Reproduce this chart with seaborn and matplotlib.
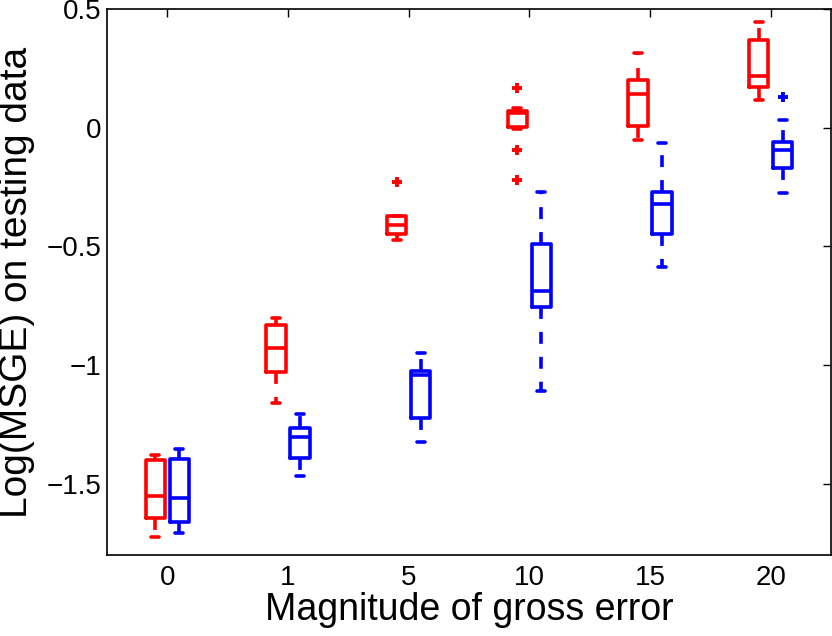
import numpy as np
import pandas as pd
import seaborn as sns
import matplotlib
matplotlib.use("Agg")
import matplotlib.pyplot as plt

# magnitudes of gross error (x categories)
magnitudes = ["0", "1", "5", "10", "15", "20"]
methods = ["red", "blue"]

# five-number summaries: whisker low, Q1, median, Q3, whisker high
red_stats = [
    [-1.725, -1.645, -1.550, -1.400, -1.378],
    [-1.159, -1.030, -0.930, -0.833, -0.800],
    [-0.474, -0.448, -0.410, -0.374, -0.374],
    [-0.005, 0.004, 0.060, 0.072, 0.085],
    [-0.051, 0.008, 0.143, 0.199, 0.313],
    [0.118, 0.173, 0.216, 0.368, 0.444],
]
blue_stats = [
    [-1.708, -1.660, -1.560, -1.395, -1.353],
    [-1.467, -1.391, -1.302, -1.264, -1.205],
    [-1.322, -1.222, -1.040, -1.023, -0.947],
    [-1.108, -0.757, -0.690, -0.490, -0.270],
    [-0.588, -0.448, -0.320, -0.270, -0.063],
    [-0.275, -0.169, -0.093, -0.059, 0.034],
]
# outliers drawn as '+'
red_outliers = {"5": [-0.228], "10": [0.169, -0.093, -0.220]}
blue_outliers = {"20": [0.131]}

rows = []
for mag, rs, bs in zip(magnitudes, red_stats, blue_stats):
    for v in rs:
        rows.append({"mag": mag, "method": "red", "val": v})
    for v in bs:
        rows.append({"mag": mag, "method": "blue", "val": v})
df = pd.DataFrame(rows)

sns.set_style("white", {"text.color": "black", "axes.labelcolor": "black",
                        "xtick.color": "black", "ytick.color": "black",
                        "axes.edgecolor": "black"})
plt.rcParams["font.family"] = ["Liberation Sans", "DejaVu Sans"]

fig = plt.figure(figsize=(8.32, 6.36), dpi=100)
ax = fig.add_axes([107 / 832, 1 - 555 / 636, 724 / 832, 546 / 636])

palette = {"red": "#ff0000", "blue": "#0000ff"}
lw = 2.6
sns.boxplot(data=df, x="mag", y="val", hue="method", order=magnitudes,
            hue_order=methods, palette=palette, fill=False, width=0.4, gap=0.2,
            whis=(0, 100), linewidth=lw, legend=False, ax=ax,
            whiskerprops={"linestyle": (0, (3.3, 3.6))},
            capprops={"linestyle": "-"},
            capwidths=0.065)

# outliers at dodged positions
offsets = {"red": -0.1, "blue": 0.1}
for method, outl in (("red", red_outliers), ("blue", blue_outliers)):
    for mag, vals in outl.items():
        i = magnitudes.index(mag)
        ax.plot([i + offsets[method]] * len(vals), vals, "+", color=palette[method],
                markersize=6.5, markeredgewidth=2.8)

ax.set_xlim(-0.5, 5.5)
ax.set_ylim(-1.8, 0.5)
ax.set_yticks([-1.5, -1, -0.5, 0, 0.5])
ax.set_yticklabels(["\u22121.5", "\u22121", "\u22120.5", "0", "0.5"])
ax.set_xlabel("Magnitude of gross error", fontsize=27, labelpad=1)
ax.set_ylabel("Log(MSGE) on testing data", fontsize=28, labelpad=8)
ax.tick_params(direction="in", length=5.5, width=1, top=True, right=True,
               labelsize=20)
ax.tick_params(axis="y", pad=4)
ax.tick_params(axis="x", pad=7)
for s in ax.spines.values():
    s.set_linewidth(1.2)

fig.savefig("out.png", dpi=100)
